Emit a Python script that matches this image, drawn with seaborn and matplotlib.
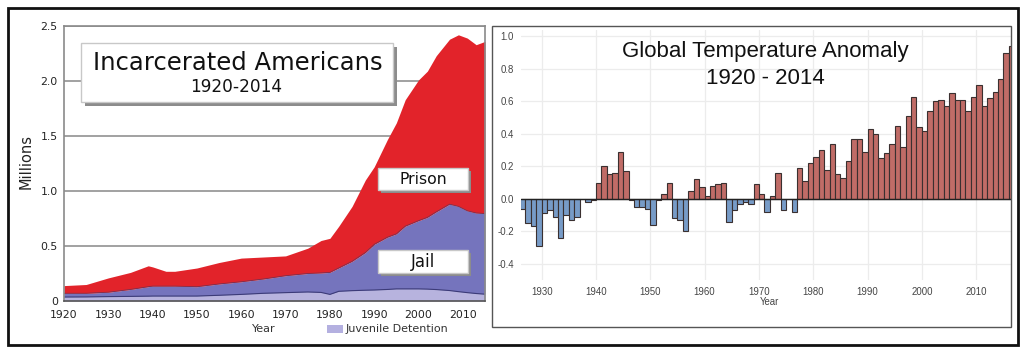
import numpy as np
import pandas as pd
import matplotlib
matplotlib.use("Agg")
import matplotlib.pyplot as plt
import seaborn as sns
from matplotlib.patches import Rectangle

W, H = 1024, 357

# --- Left panel: incarcerated Americans (millions) ---
inc_years = [1920, 1925, 1930, 1935, 1939, 1940, 1943, 1945, 1950, 1955, 1960,
             1965, 1970, 1975, 1978, 1980, 1982, 1985, 1988, 1990, 1993, 1995,
             1997, 2000, 2002, 2004, 2007, 2009, 2011, 2013, 2015]
juvenile = [0.036, 0.037, 0.040, 0.042, 0.044, 0.045, 0.045, 0.045, 0.045, 0.052, 0.060,
            0.070, 0.076, 0.082, 0.078, 0.060, 0.088, 0.094, 0.098, 0.100, 0.105, 0.110,
            0.110, 0.110, 0.108, 0.104, 0.095, 0.085, 0.076, 0.068, 0.062]
jail = [0.034, 0.033, 0.040, 0.063, 0.086, 0.090, 0.090, 0.090, 0.085, 0.103, 0.115,
        0.130, 0.154, 0.168, 0.177, 0.200, 0.212, 0.266, 0.342, 0.415, 0.475, 0.500,
        0.570, 0.620, 0.652, 0.706, 0.785, 0.775, 0.744, 0.732, 0.733]
prison = [0.070, 0.080, 0.130, 0.155, 0.190, 0.175, 0.135, 0.135, 0.170, 0.195, 0.215,
          0.200, 0.180, 0.230, 0.295, 0.310, 0.380, 0.500, 0.660, 0.705, 0.890, 1.010,
          1.150, 1.280, 1.330, 1.420, 1.500, 1.560, 1.570, 1.530, 1.565]
inc_yticks = [0, 0.5, 1.0, 1.5, 2.0, 2.5]
inc_yticklabels = ["0", "0.5", "1.0", "1.5", "2.0", "2.5"]
inc_xticks = [1920, 1930, 1940, 1950, 1960, 1970, 1980, 1990, 2000, 2010]

# --- Right panel: global temperature anomaly (deg C) ---
temp_years = list(range(1926, 2017))
anomaly = [-0.06, -0.15, -0.17, -0.29, -0.09, -0.07, -0.11, -0.24, -0.10, -0.13,
           -0.11, 0.00, -0.02, -0.01, 0.10, 0.20, 0.15, 0.16, 0.29, 0.17,
           -0.01, -0.05, -0.05, -0.06, -0.16, -0.01, 0.03, 0.10, -0.12, -0.13,
           -0.20, 0.05, 0.12, 0.07, 0.02, 0.08, 0.09, 0.10, -0.14, -0.07,
           -0.03, -0.02, -0.03, 0.09, 0.03, -0.08, 0.02, 0.16, -0.07, 0.00,
           -0.08, 0.19, 0.11, 0.22, 0.26, 0.30, 0.18, 0.34, 0.15, 0.13,
           0.23, 0.37, 0.37, 0.29, 0.43, 0.40, 0.25, 0.28, 0.34, 0.45,
           0.32, 0.51, 0.63, 0.44, 0.42, 0.54, 0.60, 0.61, 0.57, 0.65,
           0.61, 0.61, 0.54, 0.63, 0.70, 0.57, 0.62, 0.66, 0.74, 0.90,
           0.94]
temp_decades = [1930, 1940, 1950, 1960, 1970, 1980, 1990, 2000, 2010]
temp_yticks = [-0.4, -0.2, 0.0, 0.2, 0.4, 0.6, 0.8, 1.0]


def rect_fig(x0, y0, x1, y1):
    # pixel box -> figure fraction [left, bottom, width, height]
    return [x0 / W, 1 - y1 / H, (x1 - x0) / W, (y1 - y0) / H]


def add_box(fig, x0, y0, x1, y1, shadow=4):
    fig.add_artist(Rectangle((( x0 + shadow) / W, 1 - (y1 + shadow) / H),
                             (x1 - x0) / W, (y1 - y0) / H, transform=fig.transFigure,
                             facecolor="#8c8c8c", edgecolor="none", zorder=2))
    fig.add_artist(Rectangle((x0 / W, 1 - y1 / H), (x1 - x0) / W, (y1 - y0) / H,
                             transform=fig.transFigure, facecolor="white",
                             edgecolor="#c8c8c8", linewidth=1, zorder=2.1))


sns.set_theme(style="white")
plt.rcParams["font.family"] = ["DejaVu Sans"]

fig = plt.figure(figsize=(W / 100, H / 100), dpi=100)
fig.patch.set_facecolor("white")

# ---------------- left chart ----------------
ax1 = fig.add_axes(rect_fig(64, 26, 485, 301))
ax1.stackplot(inc_years, juvenile, jail, prison,
              colors=["#b7b3de", "#7574bd", "#e2232a"], linewidth=0)
juv_top = np.array(juvenile)
jail_top = juv_top + np.array(jail)
ax1.plot(inc_years, juv_top, color="#3c3b78", linewidth=0.8)
ax1.plot(inc_years, jail_top, color="#7a3050", linewidth=0.6)
ax1.set_xlim(1920, 2015)
ax1.set_ylim(0, 2.5)
ax1.set_yticks(inc_yticks)
ax1.set_yticklabels(inc_yticklabels)
ax1.set_xticks(inc_xticks)
ax1.yaxis.grid(True, color="#9a9a9a", linewidth=1.3)
ax1.set_axisbelow(True)
ax1.tick_params(axis="both", length=0, labelsize=7.8, colors="#222222")
ax1.tick_params(axis="y", pad=4.5)
ax1.tick_params(axis="x", pad=6.5)
for s in ax1.spines.values():
    s.set_color("#8a8a8a")
    s.set_linewidth(1.2)
ax1.spines["bottom"].set_color("#555555")

fig.text(26 / W, 1 - 162 / H, "Millions", rotation=90, ha="center", va="center",
         fontsize=10.5, color="#222222")
fig.text(264 / W, 1 - 329 / H, "Year", ha="center", va="center", fontsize=8, color="#333333")
fig.add_artist(Rectangle((327 / W, 1 - 333 / H), 16 / W, 8 / H, transform=fig.transFigure,
                         facecolor="#b4b0e0", edgecolor="none"))
fig.text(346 / W, 1 - 329 / H, "Juvenile Detention", ha="left", va="center",
         fontsize=8, color="#333333")

add_box(fig, 81, 43, 393, 102)
fig.text(238 / W, 1 - 63 / H, "Incarcerated Americans", ha="center", va="center",
         fontsize=17.5, color="#111111", zorder=3)
fig.text(236 / W, 1 - 86.5 / H, "1920-2014", ha="center", va="center",
         fontsize=12.2, color="#111111", zorder=3)

add_box(fig, 378, 168, 468, 190, shadow=3)
fig.text(423 / W, 1 - 179 / H, "Prison", ha="center", va="center",
         fontsize=11.3, color="#111111", zorder=3)
add_box(fig, 378, 250, 468, 273, shadow=3)
fig.text(423 / W, 1 - 262 / H, "Jail", ha="center", va="center",
         fontsize=12, color="#111111", zorder=3)

# ---------------- right chart ----------------
ax2 = fig.add_axes(rect_fig(521, 30, 1011, 280))
df = pd.DataFrame({"year": temp_years, "anomaly": anomaly})
df["sign"] = np.where(df["anomaly"] < 0, "neg", "pos")
sns.barplot(data=df, x="year", y="anomaly", hue="sign",
            palette={"neg": "#6a9ad4", "pos": "#cf5f58"},
            native_scale=True, dodge=False, width=1, errorbar=None,
            edgecolor="#3a3030", linewidth=0.8, legend=False, ax=ax2)
ax2.axhline(0, color="#222222", linewidth=1.0, zorder=3)
# grid lines sit on bar edges, half a year before each decade bar
ax2.set_xticks([d - 0.5 for d in temp_decades])
ax2.set_xticklabels([str(d) for d in temp_decades])
ax2.set_yticks(temp_yticks)
ax2.set_yticklabels([f"{v:.1f}" for v in temp_yticks])
ax2.set_xlim(1925.7, 2015.9)
ax2.set_ylim(-0.5, 1.04)
ax2.grid(True, color="#ececec", linewidth=0.9)
ax2.set_axisbelow(True)
ax2.set_xlabel("")
ax2.set_ylabel("")
for s in ax2.spines.values():
    s.set_visible(False)
ax2.tick_params(axis="both", length=0, labelsize=6.9, colors="#444444",
                labelfontfamily="Liberation Sans")
ax2.tick_params(axis="y", pad=5)
ax2.tick_params(axis="x", pad=5)

fig.text(769 / W, 1 - 302 / H, "Year", ha="center", va="center", fontsize=6.9,
         color="#444444", family="Liberation Sans")
fig.text(765 / W, 1 - 51 / H, "Global Temperature Anomaly", ha="center", va="center",
         fontsize=16, color="#111111", family="Liberation Sans")
fig.text(765 / W, 1 - 79 / H, "1920 - 2014", ha="center", va="center",
         fontsize=16, color="#111111", family="Liberation Sans")

# panel frames
fig.add_artist(Rectangle((492 / W, 1 - 327 / H), (1011 - 492) / W, (327 - 26) / H,
                         transform=fig.transFigure, facecolor="none",
                         edgecolor="#555555", linewidth=1.0))
fig.add_artist(Rectangle((8 / W, 1 - 345 / H), (1018 - 8) / W, (345 - 8) / H,
                         transform=fig.transFigure, facecolor="none",
                         edgecolor="#111111", linewidth=2.0))

fig.savefig("out.png", dpi=100)
